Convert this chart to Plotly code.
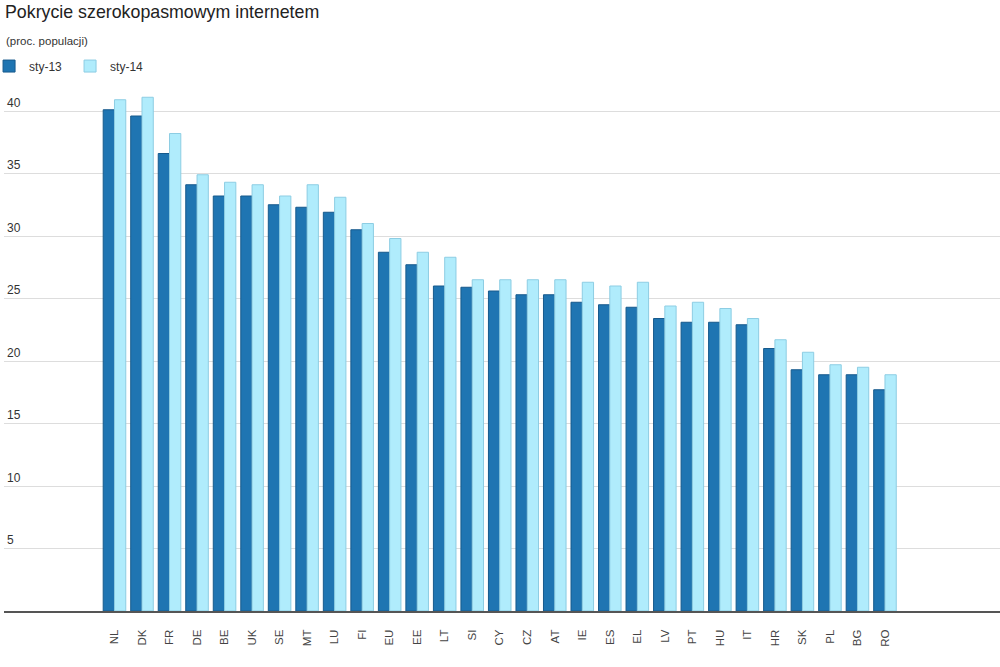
import plotly.graph_objects as go

countries = ["NL", "DK", "FR", "DE", "BE", "UK", "SE", "MT", "LU", "FI", "EU", "EE", "LT", "SI",
             "CY", "CZ", "AT", "IE", "ES", "EL", "LV", "PT", "HU", "IT", "HR", "SK", "PL", "BG", "RO"]
sty13 = [40.1, 39.6, 36.6, 34.1, 33.2, 33.2, 32.5, 32.3, 31.9, 30.5, 28.7, 27.7, 26.0, 25.9,
         25.6, 25.3, 25.3, 24.7, 24.5, 24.3, 23.4, 23.1, 23.1, 22.9, 21.0, 19.3, 18.9, 18.9, 17.7]
sty14 = [40.9, 41.1, 38.2, 34.9, 34.3, 34.1, 33.2, 34.1, 33.1, 31.0, 29.8, 28.7, 28.3, 26.5,
         26.5, 26.5, 26.5, 26.3, 26.0, 26.3, 24.4, 24.7, 24.2, 23.4, 21.7, 20.7, 19.7, 19.5, 18.9]
y_ticks = [5, 10, 15, 20, 25, 30, 35, 40]

fig = go.Figure()
fig.add_trace(go.Bar(x=countries, y=sty13, name="sty-13",
                     marker=dict(color="#1f75b2", line=dict(color="#175a8c", width=1))))
fig.add_trace(go.Bar(x=countries, y=sty14, name="sty-14",
                     marker=dict(color="#b0ecfc", line=dict(color="#8dcde3", width=1))))

fig.update_layout(
    width=1000, height=667,
    margin=dict(l=4, r=0, t=86, b=56, autoexpand=False),
    paper_bgcolor="white", plot_bgcolor="white",
    font=dict(family="Liberation Sans, Arial, sans-serif", color="#333333", size=12),
    barmode="group", bargap=0.18, bargroupgap=0.0,
    title=dict(text="Pokrycie szerokopasmowym internetem", x=0.005, xanchor="left",
               y=0.982, yanchor="middle",
               font=dict(size=17.8, color="#222222", family="Liberation Sans, Arial, sans-serif")),
    legend=dict(orientation="h", x=-0.015, xanchor="left", y=1.038, yanchor="middle",
                font=dict(size=12, color="#333333"), traceorder="normal",
                itemwidth=30, entrywidth=36, entrywidthmode="pixels", bgcolor="rgba(0,0,0,0)"),
    annotations=[dict(text="(proc. populacji)", xref="paper", yref="paper", x=0.0, y=1.0857,
                      xanchor="left", yanchor="middle", showarrow=False,
                      font=dict(size=11.5, color="#333333"))],
    showlegend=True,
)
fig.update_xaxes(range=[-4.015, 32.18], tickangle=-90, tickfont=dict(size=11.5, color="#444444"),
                 ticklabelstandoff=12,
                 showline=True, linecolor="#555555", linewidth=2, ticks="", showgrid=False,
                 automargin=False)
fig.update_yaxes(range=[0, 42], tickvals=y_ticks, ticktext=[str(v) for v in y_ticks],
                 ticklabelposition="inside top", showgrid=True, gridcolor="#dddddd", gridwidth=1,
                 zeroline=False, showline=False, ticks="", tickfont=dict(size=12, color="#333333"),
                 automargin=False)

fig.write_html("out.html", config={"displayModeBar": False},
               post_script="document.body.style.margin='0';")
